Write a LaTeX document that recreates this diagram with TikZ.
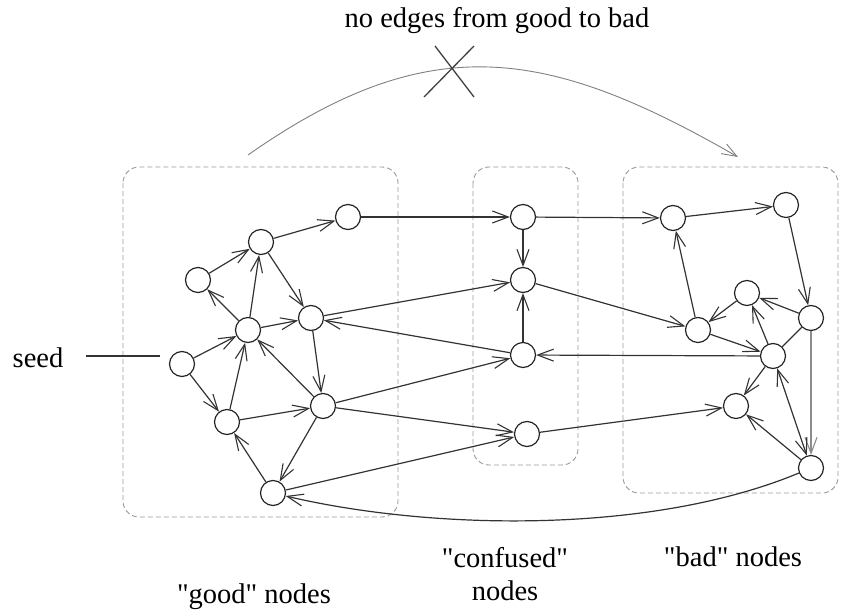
\documentclass[tikz,border=0pt]{standalone}
\usepackage{fontspec}
\newfontfamily\labelfont{Liberation Serif}
\usetikzlibrary{arrows.meta}
\begin{document}
\begin{tikzpicture}[x=1pt,y=-1pt,
  tip/.tip={Straight Barb[length=16pt,width=12pt,line width=1.1pt]},
  vert/.style={circle,draw=black!85,line width=1.2pt,minimum size=25pt,inner sep=0pt},
  edge/.style={draw=black!80,line width=1.2pt,-tip},
  biedge/.style={draw=black!80,line width=1.2pt,tip-tip},
  plain/.style={draw=black!80,line width=1.2pt},
  grayedge/.style={draw=black!45,line width=2pt,-tip},
  group/.style={draw=black!40,dash pattern=on 5pt off 3pt,line width=0.9pt,rounded corners=16pt},
  lbl/.style={font=\labelfont\fontsize{28.5}{33}\selectfont,inner sep=0pt,text=black}]
\useasboundingbox (0,0) rectangle (841,613);

% groups
\draw[group] (123,167) rectangle (398,517);
\draw[group] (473,167) rectangle (578,465);
\draw[group] (623,167) rectangle (838,493);

% good nodes
\node[vert] (S) at (182,364) {};
\node[vert] (A) at (198,280) {};
\node[vert] (B) at (261,242) {};
\node[vert] (C) at (348,217) {};
\node[vert] (D) at (248,330) {};
\node[vert] (E) at (311,318) {};
\node[vert] (F) at (227,422) {};
\node[vert] (G) at (323,406) {};
\node[vert] (H) at (273,493) {};
% confused nodes
\node[vert] (M1) at (523,217) {};
\node[vert] (M2) at (523,280) {};
\node[vert] (M3) at (523,355) {};
\node[vert] (M4) at (527,434) {};
% bad nodes
\node[vert] (R1) at (673,218) {};
\node[vert] (R2) at (786,205) {};
\node[vert] (R3) at (747,293) {};
\node[vert] (R4) at (811,318) {};
\node[vert] (R5) at (698,330) {};
\node[vert] (R6) at (773,356) {};
\node[vert] (R7) at (736,406) {};
\node[vert] (R8) at (811,468) {};

% seed
\node[lbl] (seed) at (38,358) {seed};
\coordinate (s1) at (86,356);
\coordinate (s2) at (160,356);
\draw[plain] (s1) -- (s2);

% good edges
\draw[edge] (S) -- (D);
\draw[edge] (S) -- (F);
\draw[edge] (F) -- (D);
\draw[edge] (D) -- (A);
\draw[edge] (A) -- (B);
\draw[edge] (D) -- (B);
\draw[edge] (B) -- (E);
\draw[edge] (D) -- (E);
\draw[edge] (B) -- (C);
\draw[edge] (E) -- (G);
\draw[edge] (G) -- (D);
\draw[edge] (F) -- (G);
\draw[edge] (G) -- (H);
\draw[edge] (H) -- (F);
% crossing edges
\draw[edge] (E) -- (M2);
\draw[edge] (M3) -- (E);
\draw[edge] (C) -- (M1);
\draw[edge] (G) -- (M3);
\draw[edge] (G) -- (M4);
\draw[edge] (H) -- (M4);
\draw[edge] (M1) -- (M2);
\draw[edge] (M3) -- (M2);
\draw[edge] (M1) -- (R1);
\draw[edge] (M2) -- (R5);
\draw[edge] (R6) -- (M3);
\draw[edge] (M4) -- (R7);
% bad edges
\draw[edge] (R1) -- (R2);
\draw[edge] (R2) -- (R4);
\draw[edge] (R5) -- (R1);
\draw[edge] (R4) -- (R3);
\draw[edge] (R3) -- (R5);
\draw[edge] (R6) -- (R3);
\draw[edge] (R5) -- (R6);
\draw[plain] (R4) -- (R6);
\draw[grayedge] (R4) -- (R8);
\draw[edge] (R6) -- (R7);
\draw[biedge] (R6) -- (R8);
\draw[edge] (R8) -- (R7);
\draw[edge] (R8) .. controls (650,535) and (430,530) .. (H);

% forbidden arc
\coordinate (a1) at (248,155);
\coordinate (a2) at (738,157);
\draw[draw=black!50,line width=0.9pt,-{Straight Barb[length=15pt,width=11pt,line width=0.9pt]}]
  (a1) .. controls (429,28) and (547,47) .. (a2);
\coordinate (x1) at (424,97);
\coordinate (x2) at (474,46);
\coordinate (x3) at (435,46);
\coordinate (x4) at (474,97);
\draw[draw=black!75,line width=1.3pt] (x1) -- (x2);
\draw[draw=black!75,line width=1.3pt] (x3) -- (x4);
\node[lbl] (title) at (497,21) {no edges from good to bad};

% group labels
\node[lbl] (good) at (254,597) {"good" nodes};
\node[lbl,align=center] (conf) at (505,574) {"confused"\\nodes};
\node[lbl] (bad) at (733,557) {"bad" nodes};
\end{tikzpicture}
\end{document}
